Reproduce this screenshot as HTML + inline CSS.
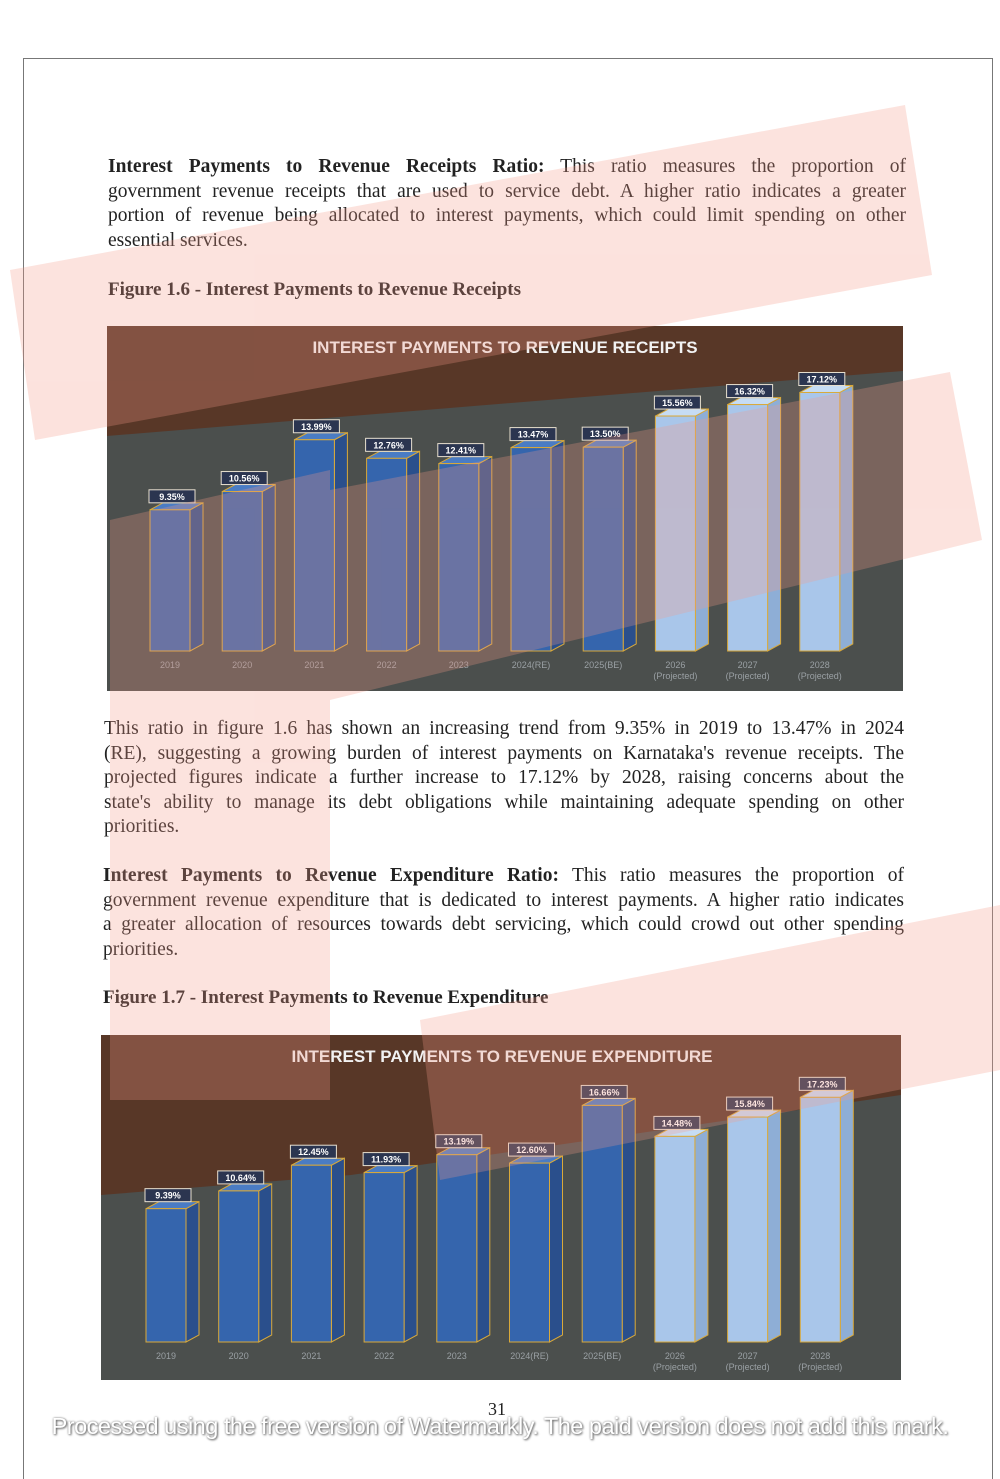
<!DOCTYPE html>
<html><head><meta charset="utf-8">
<style>
html,body{margin:0;padding:0;background:#fff;}
body{width:1000px;height:1465px;position:relative;overflow:hidden;font-family:"Liberation Serif",serif;color:#222;}
.frame{position:absolute;left:23px;top:58px;width:968px;height:1420px;border:1px solid #777;border-bottom:none;}
.p{position:absolute;font-size:19.5px;line-height:24.5px;}
.p div{text-align:justify;text-align-last:justify;white-space:nowrap;}
.p div.last{text-align-last:left;}
.cap{position:absolute;font-size:19px;font-weight:bold;}
.chart{position:absolute;}
.wm{position:absolute;left:0;top:1413px;width:1000px;text-align:center;font-family:"Liberation Sans",sans-serif;font-size:23.5px;color:#fff;text-shadow:1px 1px 2px #666,0 0 2px #888;letter-spacing:-0.5px;}
</style></head><body>
<div class="frame"></div>

<div class="p" style="left:108px;top:155px;width:798px;">
<div><b>Interest Payments to Revenue Receipts Ratio:</b> This ratio measures the proportion of</div>
<div>government revenue receipts that are used to service debt. A higher ratio indicates a greater</div>
<div>portion of revenue being allocated to interest payments, which could limit spending on other</div>
<div class="last">essential services.</div>
</div>
<div class="cap" style="left:108px;top:279px;">Figure 1.6 - Interest Payments to Revenue Receipts</div>

<svg class="chart" id="c1" style="left:107px;top:326px;" width="796" height="365"></svg>

<div class="p" style="left:104px;top:717px;width:800px;">
<div>This ratio in figure 1.6 has shown an increasing trend from 9.35% in 2019 to 13.47% in 2024</div>
<div>(RE), suggesting a growing burden of interest payments on Karnataka's revenue receipts. The</div>
<div>projected figures indicate a further increase to 17.12% by 2028, raising concerns about the</div>
<div>state's ability to manage its debt obligations while maintaining adequate spending on other</div>
<div class="last">priorities.</div>
</div>
<div class="p" style="left:103px;top:864px;width:801px;">
<div><b>Interest Payments to Revenue Expenditure Ratio:</b> This ratio measures the proportion of</div>
<div>government revenue expenditure that is dedicated to interest payments. A higher ratio indicates</div>
<div>a greater allocation of resources towards debt servicing, which could crowd out other spending</div>
<div class="last">priorities.</div>
</div>
<div class="cap" style="left:103px;top:987px;">Figure 1.7 - Interest Payments to Revenue Expenditure</div>

<svg class="chart" id="c2" style="left:101px;top:1035px;" width="800" height="345"></svg>

<div style="position:absolute;left:488px;top:1399px;font-size:18px;">31</div>

<svg style="position:absolute;left:0;top:0;pointer-events:none" width="1000" height="1465">
<g fill="#f59a88" opacity="0.28">
<polygon points="10,270 905,105 932,275 35,440"/>
<polygon points="330,490 950,372 982,540 330,700"/>
<polygon points="110,520 330,470 330,1100 110,1100"/>
<polygon points="420,1020 1000,905 1000,1070 440,1180"/>
</g>
</svg>

<div class="wm">Processed using the free version of Watermarkly. The paid version does not add this mark.</div>

<script>
const cats1 = ["2019","2020","2021","2022","2023","2024(RE)","2025(BE)","2026|(Projected)","2027|(Projected)","2028|(Projected)"];
const vals1 = [9.35,10.56,13.99,12.76,12.41,13.47,13.50,15.56,16.32,17.12];
const proj1 = [false,false,false,false,false,false,false,true,true,true];
const cats2 = ["2019","2020","2021","2022","2023","2024(RE)","2025(BE)","2026|(Projected)","2027|(Projected)","2028|(Projected)"];
const vals2 = [9.39,10.64,12.45,11.93,13.19,12.60,16.66,14.48,15.84,17.23];
const proj2 = [false,false,false,false,false,false,false,true,true,true];

const NS="http://www.w3.org/2000/svg";
function mk(tag,attrs,parent){const e=document.createElementNS(NS,tag);for(const k in attrs)e.setAttribute(k,attrs[k]);parent.appendChild(e);return e;}

function draw(id,title,cats,vals,proj,cfg){
  const s=document.getElementById(id);
  const W=+s.getAttribute('width'),H=+s.getAttribute('height');
  const bg=mk('rect',{x:0,y:0,width:W,height:H,fill:'#4b4f4d'},s);
  
  
  mk('polygon',{points:cfg.brown,fill:'#5a3424',opacity:0.9},s);
  const t=mk('text',{x:cfg.tx,y:27,'text-anchor':'middle',fill:'#f2f2f2','font-family':'"Liberation Sans Narrow","Liberation Sans",sans-serif','font-size':17,'font-weight':'bold'},s);
  t.textContent=title;
  
  
  const xs=i=>cfg.x0+i*cfg.step;
  const ys=v=>cfg.base-v*cfg.scale;
  const bw=40,d=13,dy=7;
  vals.forEach((v,i)=>{
    const x=xs(i),y=ys(v),b=cfg.base;
    const g=mk('g',{},s);
    
    
    const front=proj[i]?'#a9c6ea':'#3565ad', side=proj[i]?'#8eaed6':'#2a4f8c', top=proj[i]?'#c6dcf4':'#4a7cc4';
    mk('polygon',{points:`${x+bw},${y} ${x+bw+d},${y-dy} ${x+bw+d},${b-dy} ${x+bw},${b}`,fill:side,stroke:'#d9a93a','stroke-width':1},g);
    mk('polygon',{points:`${x},${y} ${x+d},${y-dy} ${x+bw+d},${y-dy} ${x+bw},${y}`,fill:top,stroke:'#d9a93a','stroke-width':1},g);
    mk('rect',{x:x,y:y,width:bw,height:b-y,fill:front,stroke:'#d9a93a','stroke-width':1},g);
    const lb=mk('g',{},s);
    
    
    mk('rect',{x:x-1,y:y-20,width:bw+6,height:13,fill:'#2b3550',stroke:'#e8e0d0','stroke-width':1},lb);
    const vt=mk('text',{x:x+bw/2+2,y:y-10,'text-anchor':'middle',fill:'#fff','font-family':'"Liberation Sans",sans-serif','font-size':9,'font-weight':'bold'},lb);
    vt.textContent=v.toFixed(2)+'%';
    const parts=cats[i].split('|');
    parts.forEach((p,j)=>{
      const ct=mk('text',{x:x+bw/2,y:cfg.ly+j*11,'text-anchor':'middle',fill:'#9aa0a4','font-family':'"Liberation Sans",sans-serif','font-size':9},s);
      ct.textContent=p;
      
      
    });
  });
}
draw('c1','INTEREST PAYMENTS TO REVENUE RECEIPTS',cats1,vals1,proj1,{x0:43,step:72.2,base:325,scale:15.1,tx:398,ly:342,brown:'0,0 796,0 796,45 0,110'});
draw('c2','INTEREST PAYMENTS TO REVENUE EXPENDITURE',cats2,vals2,proj2,{x0:45,step:72.7,base:307,scale:14.2,tx:401,ly:324,brown:'0,0 800,0 800,60 250,140 0,160'});
</script>
</body></html>
